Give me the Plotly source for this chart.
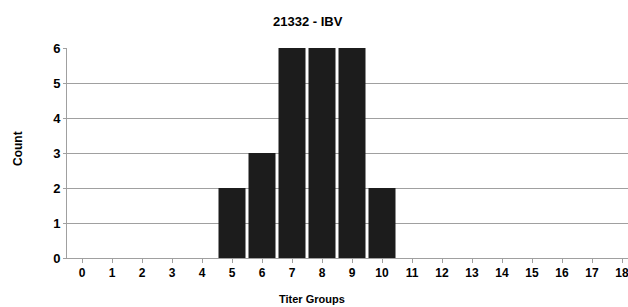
import plotly.graph_objects as go

categories = [str(i) for i in range(19)]
counts = [0, 0, 0, 0, 0, 2, 3, 6, 6, 6, 2, 0, 0, 0, 0, 0, 0, 0, 0]
y_ticks = [0, 1, 2, 3, 4, 5, 6]

FONT = "Liberation Sans Narrow, Arial Narrow, Liberation Sans, Arial, sans-serif"
GRID = "#a0a0a0"

W, H = 628, 307
L, R, T, B = 67, 0, 48, 49
PW, PH = W - L - R, H - T - B


def px(x):
    return (x - L) / PW


def py(y):
    return (H - B - y) / PH


fig = go.Figure(go.Bar(
    x=list(range(19)), y=counts,
    marker=dict(color="#1c1c1c", line=dict(width=0)),
    hoverinfo="skip",
))

fig.update_layout(
    width=W, height=H,
    margin=dict(l=L, r=R, t=T, b=B, autoexpand=False),
    paper_bgcolor="white", plot_bgcolor="white",
    bargap=0.1,
    showlegend=False,
    font=dict(family=FONT, color="black", size=12),
    xaxis=dict(
        range=[-0.5, 18.2],
        tickmode="array", tickvals=list(range(19)),
        ticktext=[f"<b>{c}</b>" for c in categories],
        tickson="boundaries", ticks="outside", ticklen=4, tickcolor=GRID,
        ticklabeloverflow="allow",
        showline=True, linecolor=GRID, linewidth=1,
        showgrid=False, zeroline=False,
        tickfont=dict(family=FONT, size=12, color="black"),
    ),
    yaxis=dict(
        range=[0, 6],
        tickmode="array", tickvals=y_ticks,
        ticktext=[f"<b>{v}</b>" for v in y_ticks],
        ticks="outside", ticklen=3, tickcolor=GRID,
        showline=True, linecolor=GRID, linewidth=1,
        showgrid=True, gridcolor=GRID, gridwidth=1,
        zeroline=False,
        tickfont=dict(family=FONT, size=13, color="black"),
    ),
    annotations=[
        dict(text="<b>21332 - IBV</b>", x=px(308), y=py(21), xref="paper", yref="paper",
             showarrow=False, xanchor="center", yanchor="middle",
             font=dict(family=FONT, size=13, color="black")),
        dict(text="<b>Titer Groups</b>", x=px(312), y=py(299), xref="paper", yref="paper",
             showarrow=False, xanchor="center", yanchor="middle",
             font=dict(family=FONT, size=11, color="black")),
        dict(text="<b>Count</b>", x=px(18), y=py(149), xref="paper", yref="paper",
             showarrow=False, xanchor="center", yanchor="middle", textangle=-90,
             font=dict(family=FONT, size=12, color="black")),
    ],
)

fig.write_html("out.html", config={"displayModeBar": False},
               post_script="document.body.style.margin='0';")
